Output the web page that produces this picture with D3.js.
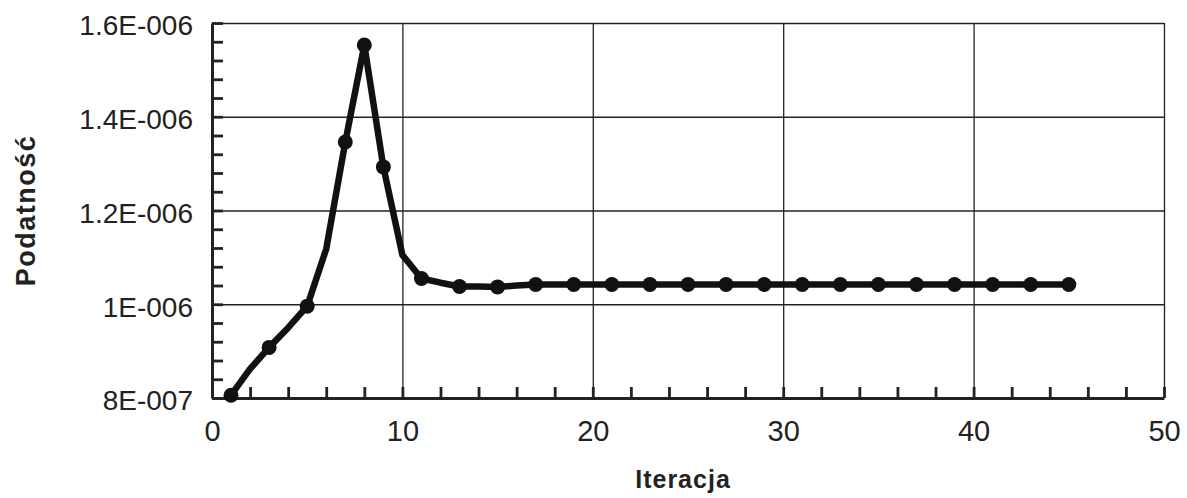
<!DOCTYPE html>
<html>
<head>
<meta charset="utf-8">
<script src="https://cdn.jsdelivr.net/npm/d3@7"></script>
<style>
  body { margin: 0; background: #fff; }
  text { font-family: Arial, "Liberation Sans", sans-serif; fill: #222; }
</style>
</head>
<body>
<div id="chart-area"></div>
<script>
// data
var iteracja = [1, 2, 3, 4, 5, 6, 7, 8, 9, 10, 11, 12, 13, 14, 15, 16, 17, 18, 19, 20,
                21, 22, 23, 24, 25, 26, 27, 28, 29, 30, 31, 32, 33, 34, 35, 36, 37, 38, 39, 40,
                41, 42, 43, 44, 45];
var podatnosc = [8.06e-7, 8.62e-7, 9.08e-7, 9.50e-7, 9.96e-7, 1.118e-6, 1.346e-6, 1.553e-6, 1.293e-6, 1.105e-6,
                 1.055e-6, 1.046e-6, 1.038e-6, 1.038e-6, 1.037e-6, 1.040e-6, 1.042e-6, 1.042e-6, 1.042e-6, 1.042e-6,
                 1.042e-6, 1.042e-6, 1.042e-6, 1.042e-6, 1.042e-6, 1.042e-6, 1.042e-6, 1.042e-6, 1.042e-6, 1.042e-6,
                 1.042e-6, 1.042e-6, 1.042e-6, 1.042e-6, 1.042e-6, 1.042e-6, 1.042e-6, 1.042e-6, 1.042e-6, 1.042e-6,
                 1.042e-6, 1.042e-6, 1.042e-6, 1.042e-6, 1.042e-6];
// iterations that carry a marker
var markerIter = [1, 3, 5, 7, 8, 9, 11, 13, 15, 17, 19, 21, 23, 25, 27, 29, 31, 33, 35, 37, 39, 41, 43, 45];

var xTicks = [0, 10, 20, 30, 40, 50];
var xMinor = [0, 2, 4, 6, 8, 10, 12, 14, 16, 18, 20, 22, 24, 26, 28, 30, 32, 34, 36, 38, 40, 42, 44, 46, 48, 50];
var yTicks = [8e-7, 1e-6, 1.2e-6, 1.4e-6, 1.6e-6];
var yTickLabels = ["8E-007", "1E-006", "1.2E-006", "1.4E-006", "1.6E-006"];
var yMinor = [8e-7, 8.4e-7, 8.8e-7, 9.2e-7, 9.6e-7, 1e-6, 1.04e-6, 1.08e-6, 1.12e-6, 1.16e-6, 1.2e-6,
              1.24e-6, 1.28e-6, 1.32e-6, 1.36e-6, 1.4e-6, 1.44e-6, 1.48e-6, 1.52e-6, 1.56e-6, 1.6e-6];

var margin = { left: 212, right: 23, top: 23, bottom: 100 };
var width = 1187 - margin.left - margin.right,
    height = 498 - margin.top - margin.bottom;

var svg = d3.select("#chart-area")
    .append("svg")
        .attr("width", 1187)
        .attr("height", 498);

var g = svg.append("g")
    .attr("transform", "translate(" + margin.left + ", " + margin.top + ")");

var x = d3.scaleLinear().domain([0, 50]).range([0, width]);
var y = d3.scaleLinear().domain([8e-7, 1.6e-6]).range([height, 0]);

// gridlines
g.append("g")
    .attr("class", "grid")
    .call(d3.axisLeft(y).tickValues(yTicks).tickSize(-width).tickFormat(""))
    .call(function(s){ s.select(".domain").remove(); })
    .selectAll("line").attr("stroke", "#222").attr("stroke-width", 1.3);

g.append("g")
    .attr("class", "grid")
    .attr("transform", "translate(0," + height + ")")
    .call(d3.axisBottom(x).tickValues(xTicks).tickSize(-height).tickFormat(""))
    .call(function(s){ s.select(".domain").remove(); })
    .selectAll("line").attr("stroke", "#222").attr("stroke-width", 1.3);

// minor ticks (inside)
g.append("g")
    .call(d3.axisLeft(y).tickValues(yMinor).tickSize(-11).tickFormat(""))
    .call(function(s){ s.select(".domain").remove(); })
    .selectAll("line").attr("stroke", "#222").attr("stroke-width", 2.8);

g.append("g")
    .attr("transform", "translate(0," + height + ")")
    .call(d3.axisBottom(x).tickValues(xMinor).tickSize(-11).tickFormat(""))
    .call(function(s){ s.select(".domain").remove(); })
    .selectAll("line").attr("stroke", "#222").attr("stroke-width", 2.8);

// axis lines + labels
var yAxis = g.append("g")
    .call(d3.axisLeft(y).tickValues(yTicks).tickSize(0).tickPadding(19)
        .tickFormat(function(d, i){ return yTickLabels[i]; }));
yAxis.select(".domain").attr("stroke", "#222").attr("stroke-width", 3);
yAxis.selectAll("text")
    .attr("font-size", "28px")
    .attr("font-family", "Arial, 'Liberation Sans', sans-serif")
    .attr("fill", "#222")
    .attr("dy", "0.42em");

var xAxis = g.append("g")
    .attr("transform", "translate(0," + height + ")")
    .call(d3.axisBottom(x).tickValues(xTicks).tickSize(0).tickPadding(22));
xAxis.select(".domain").attr("stroke", "#222").attr("stroke-width", 3);
xAxis.selectAll("text")
    .attr("font-size", "29px")
    .attr("font-family", "Arial, 'Liberation Sans', sans-serif")
    .attr("fill", "#222");

// axis titles
g.append("text")
    .attr("x", x(25) - 5)
    .attr("y", height + 90)
    .attr("text-anchor", "middle")
    .attr("font-size", "25px")
    .attr("font-weight", "bold")
    .attr("letter-spacing", "1px")
    .text("Iteracja");

g.append("text")
    .attr("transform", "translate(" + (-177) + "," + y(1.2e-6) + ") rotate(-90)")
    .attr("text-anchor", "middle")
    .attr("font-size", "27px")
    .attr("font-weight", "bold")
    .attr("letter-spacing", "1.5px")
    .text("Podatność");

// series
var points = iteracja.map(function(d, i){ return { it: d, v: podatnosc[i] }; });

var line = d3.line()
    .x(function(d){ return x(d.it); })
    .y(function(d){ return y(d.v); });

g.append("path")
    .datum(points)
    .attr("fill", "none")
    .attr("stroke", "#111")
    .attr("stroke-width", 6.5)
    .attr("stroke-linejoin", "round")
    .attr("d", line);

g.selectAll("circle")
    .data(points.filter(function(d){ return markerIter.indexOf(d.it) >= 0; }))
    .enter()
    .append("circle")
        .attr("cx", function(d){ return x(d.it); })
        .attr("cy", function(d){ return y(d.v); })
        .attr("r", 7.5)
        .attr("fill", "#111");
</script>
</body>
</html>
